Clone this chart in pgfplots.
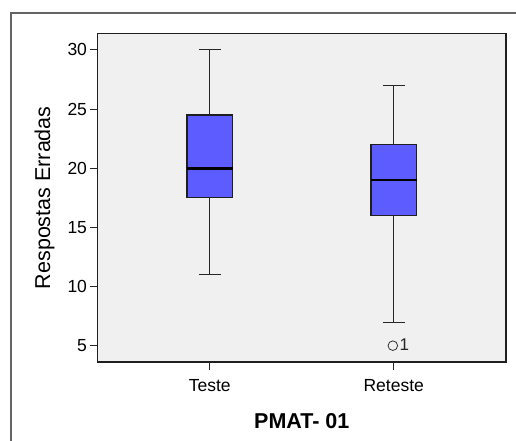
\documentclass[border=0pt]{standalone}
\usepackage{pgfplots}
\pgfplotsset{compat=1.18}
\usepackage{fontspec}
\setmainfont{Liberation Sans}
\definecolor{boxfill}{RGB}{92,92,255}
\definecolor{plotbg}{RGB}{240,240,240}
\definecolor{framegray}{RGB}{100,100,100}
\begin{document}
\begin{tikzpicture}
\path[use as bounding box] (0pt,0pt) rectangle (516pt,441pt);
\draw[framegray, line width=1.7pt] (11pt,-5pt) -- (11pt,428pt) -- (521pt,428pt);
\begin{axis}[
  at={(97.5pt,79pt)}, anchor=south west,
  scale only axis, width=408.5pt, height=328.5pt,
  xmin=0.39, xmax=2.61, ymin=3.62, ymax=31.39,
  axis background/.style={fill=plotbg},
  axis line style={line width=1.4pt, black!88},
  xtick={1,2}, xticklabels={Teste,Reteste},
  ytick={5,10,15,20,25,30},
  tick align=outside,
  xtick pos=bottom, ytick pos=left,
  major tick length=8pt,
  tick style={line width=0.9pt, black!85},
  /pgf/number format/assume math mode=true,
  ticklabel style={font=\fontsize{17.5}{20}\selectfont},
  yticklabel style={xshift=1pt},
  xticklabel style={yshift=-5.5pt},
  xlabel={\bfseries PMAT- 01},
  xlabel style={font=\fontsize{21.5}{24}\selectfont, yshift=-15pt},
  ylabel={Respostas Erradas},
  ylabel style={font=\fontsize{21.5}{24}\selectfont, yshift=6pt},
  whisk/.style={black!85, line width=0.9pt},
  boxst/.style={draw=black!88, line width=1.3pt, fill=boxfill},
  med/.style={black, line width=2.6pt},
]
% --- Teste: whiskers 11 / 30, quartiles 17.5 / 24.5, median 20
\addplot[whisk] coordinates {(1,11) (1,17.5)};
\addplot[whisk] coordinates {(1,24.5) (1,30)};
\addplot[whisk] coordinates {(0.941,11) (1.059,11)};
\addplot[whisk] coordinates {(0.941,30) (1.059,30)};
\addplot[boxst] coordinates {(0.876,17.5) (1.124,17.5) (1.124,24.5) (0.876,24.5)} --cycle;
\addplot[med] coordinates {(0.876,20) (1.124,20)};
% --- Reteste: whiskers 7 / 27, quartiles 16 / 22, median 19, outlier 5
\addplot[whisk] coordinates {(2,7) (2,16)};
\addplot[whisk] coordinates {(2,22) (2,27)};
\addplot[whisk] coordinates {(1.941,7) (2.059,7)};
\addplot[whisk] coordinates {(1.941,27) (2.059,27)};
\addplot[boxst] coordinates {(1.876,16) (2.124,16) (2.124,22) (1.876,22)} --cycle;
\addplot[med] coordinates {(1.876,19) (2.124,19)};
\addplot[only marks, mark=o, mark size=4.8pt, black!80, line width=0.8pt,
  point meta=explicit symbolic,
  nodes near coords,
  nodes near coords style={anchor=west, font=\fontsize{17}{20}\selectfont, xshift=3pt, yshift=1pt, black!85}]
  coordinates {(1.995,5) [1]};
\end{axis}
\end{tikzpicture}
\end{document}
